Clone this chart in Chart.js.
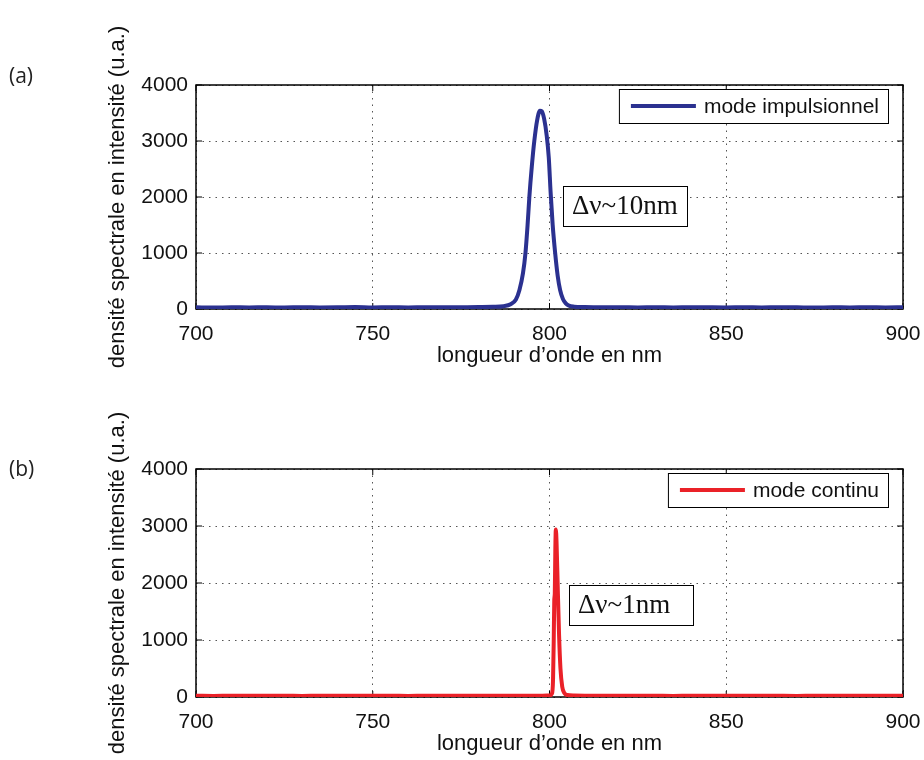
<!DOCTYPE html>
<html lang="fr">
<head>
<meta charset="utf-8">
<script src="https://cdn.jsdelivr.net/npm/chart.js@4.4.1/dist/chart.umd.min.js"></script>
<style>
  body { margin: 0; background: #fff; }
  #page { position: relative; width: 924px; height: 760px; }
  .panel { position: absolute; left: 0; width: 924px; height: 380px; }
  .tag { position: absolute; left: 9px; font: 21px "Open Sans", sans-serif; color: #222; }
</style>
</head>
<body>
<div id="page">
  <canvas id="chartA" class="panel" style="top:0" width="924" height="380"></canvas>
  <canvas id="chartB" class="panel" style="top:380px" width="924" height="380"></canvas>
  <div class="tag" style="top:61px">(a)</div>
  <div class="tag" style="top:454px">(b)</div>
</div>
<script>
// ======= Données =======
const xTicks = [700, 750, 800, 850, 900];
const yTicks = [0, 1000, 2000, 3000, 4000];

// (a) mode impulsionnel
const wavelengthsA = [700, 705, 710, 715, 720, 725, 730, 735, 740, 745, 750, 755, 760, 765, 770, 775, 780,
    784, 787, 789, 790.5, 791.5, 792.5, 793.2, 793.8, 794.3, 795, 795.7, 796.5, 797.3, 797.8, 798.5, 799.2,
    799.8, 800.3, 800.9, 801.6, 802.3, 803, 803.8, 804.6, 805.5, 807, 810,
    815, 820, 825, 830, 835, 840, 845, 850, 855, 860, 865, 870, 875, 880, 885, 890, 895, 900];
const intensityA = [30, 26, 32, 28, 31, 27, 33, 29, 30, 34, 28, 31, 29, 33, 30, 32, 34,
    38, 50, 85, 170, 340, 640, 1000, 1500, 2000, 2550, 3000, 3370, 3540, 3530, 3390, 3100,
    2700, 2100, 1500, 1000, 600, 340, 180, 100, 60, 42, 34,
    30, 32, 28, 31, 29, 33, 30, 28, 31, 29, 32, 30, 27, 31, 29, 32, 28, 30];

// (b) mode continu
const wavelengthsB = [700, 705, 710, 715, 720, 725, 730, 735, 740, 745, 750, 755, 760, 765, 770, 775, 780, 785, 790, 795,
    798, 800, 800.7, 801.0, 801.2, 801.35, 801.5, 801.65, 801.8, 802.0, 802.3, 802.7, 803.1, 803.6, 804.2, 805, 807,
    810, 815, 820, 825, 830, 835, 840, 845, 850, 855, 860, 865, 870, 875, 880, 885, 890, 895, 900];
const intensityB = [22, 19, 24, 21, 20, 23, 18, 22, 21, 24, 20, 22, 19, 23, 21, 20, 24, 22, 21, 23,
    24, 26, 60, 300, 1000, 1700, 1820, 2600, 2940, 2700, 2000, 1100, 500, 180, 70, 35, 26,
    23, 21, 20, 24, 22, 19, 23, 21, 22, 20, 24, 21, 19, 23, 22, 20, 21, 23, 20];

// ======= Styles =======
const SANS = '"Liberation Sans", Arial, Helvetica, sans-serif';
const SERIF = '"Liberation Serif", "Times New Roman", serif';
const INK = '#111';

// cadre noir + petites graduations vers l'intérieur (style MATLAB)
const framePlugin = {
    id: 'frame',
    beforeDatasetsDraw(chart) {
        const { ctx, chartArea: a, scales } = chart;
        ctx.save();
        ctx.setLineDash([]);
        ctx.strokeStyle = '#000';
        ctx.lineWidth = 1.5;
        ctx.strokeRect(a.left, a.top, a.right - a.left, a.bottom - a.top);
        ctx.lineWidth = 1;
        ctx.beginPath();
        scales.x.ticks.forEach(t => {
            const px = scales.x.getPixelForValue(t.value);
            ctx.moveTo(px, a.bottom); ctx.lineTo(px, a.bottom - 6);
            ctx.moveTo(px, a.top); ctx.lineTo(px, a.top + 6);
        });
        scales.y.ticks.forEach(t => {
            const py = scales.y.getPixelForValue(t.value);
            ctx.moveTo(a.left, py); ctx.lineTo(a.left + 6, py);
            ctx.moveTo(a.right, py); ctx.lineTo(a.right - 6, py);
        });
        ctx.stroke();
        ctx.restore();
    },
    afterDraw(chart, args, opts) {
        const { ctx, chartArea: a, scales } = chart;
        const ds = chart.data.datasets[0];
        ctx.save();
        ctx.setLineDash([]);

        // légende
        ctx.font = '21px ' + SANS;
        const tw = ctx.measureText(ds.label).width;
        const h = 34, sample = 65;
        const w = 12 + sample + 8 + tw + 9;
        const x0 = a.right - 15 - w, y0 = a.top + 4;
        ctx.fillStyle = '#fff';
        ctx.fillRect(x0, y0, w, h);
        ctx.strokeStyle = '#000';
        ctx.lineWidth = 1;
        ctx.strokeRect(x0 + 0.5, y0 + 0.5, w, h);
        ctx.strokeStyle = ds.borderColor;
        ctx.lineWidth = 4;
        ctx.beginPath();
        ctx.moveTo(x0 + 12, y0 + h / 2);
        ctx.lineTo(x0 + 12 + sample, y0 + h / 2);
        ctx.stroke();
        ctx.fillStyle = INK;
        ctx.textBaseline = 'middle';
        ctx.fillText(ds.label, x0 + 12 + sample + 8, y0 + h / 2 + 1);

        // encadré Δν
        const n = opts.note;
        const bx = Math.round(scales.x.getPixelForValue(n.x));
        const by = Math.round(scales.y.getPixelForValue(n.y));
        ctx.fillStyle = '#fff';
        ctx.fillRect(bx, by, 124, 40);
        ctx.strokeStyle = '#000';
        ctx.lineWidth = 1;
        ctx.strokeRect(bx + 0.5, by + 0.5, 124, 40);
        ctx.font = '27px ' + SERIF;
        ctx.fillStyle = INK;
        ctx.fillText(n.text, bx + 9, by + 21);
        ctx.restore();
    }
};

function makeChart(id, xs, ys, label, color, note, pad) {
    const ctx = document.getElementById(id).getContext('2d');
    const gridOpts = { color: '#555', lineWidth: 1, drawTicks: false };
    const borderOpts = { display: false, dash: [1.5, 5] };
    return new Chart(ctx, {
        type: 'line',
        data: {
            datasets: [{
                label: label,
                data: xs.map((x, i) => ({ x: x, y: ys[i] })),
                borderColor: color,
                borderWidth: 4,
                pointRadius: 0,
                cubicInterpolationMode: 'monotone',
                fill: false
            }]
        },
        options: {
            responsive: false,
            animation: false,
            layout: { padding: pad },
            plugins: {
                legend: { display: false },
                tooltip: { enabled: false },
                frame: { note: note }
            },
            scales: {
                x: {
                    type: 'linear', min: 700, max: 900,
                    afterBuildTicks: s => { s.ticks = xTicks.map(v => ({ value: v })); },
                    afterFit: s => { s.height = 60; s.paddingLeft = 0; s.paddingRight = 0; },
                    grid: gridOpts, border: borderOpts,
                    ticks: { color: INK, font: { family: SANS, size: 21 }, padding: 13, maxRotation: 0, callback: v => String(v) },
                    title: { display: true, text: 'longueur d’onde en nm', color: INK, font: { family: SANS, size: 22 }, padding: { top: 0, bottom: 0 } }
                },
                y: {
                    min: 0, max: 4000,
                    afterBuildTicks: s => { s.ticks = yTicks.map(v => ({ value: v })); },
                    afterFit: s => { s.width = 96; s.paddingTop = 0; s.paddingBottom = 0; },
                    grid: gridOpts, border: borderOpts,
                    ticks: { color: INK, font: { family: SANS, size: 21 }, padding: 8, callback: v => String(v) },
                    title: { display: true, text: 'densité spectrale en intensité (u.a.)', color: INK, font: { family: SANS, size: 22 }, padding: { top: 5, bottom: 0 } }
                }
            }
        },
        plugins: [framePlugin]
    });
}

makeChart('chartA', wavelengthsA, intensityA, 'mode impulsionnel', '#2b3190',
    { text: 'Δν~10nm', x: 803.8, y: 2200 }, { left: 100, right: 21, top: 85, bottom: 11 });
makeChart('chartB', wavelengthsB, intensityB, 'mode continu', '#ea2128',
    { text: 'Δν~1nm', x: 805.5, y: 1965 }, { left: 100, right: 21, top: 89, bottom: 3 });
</script>
</body>
</html>
